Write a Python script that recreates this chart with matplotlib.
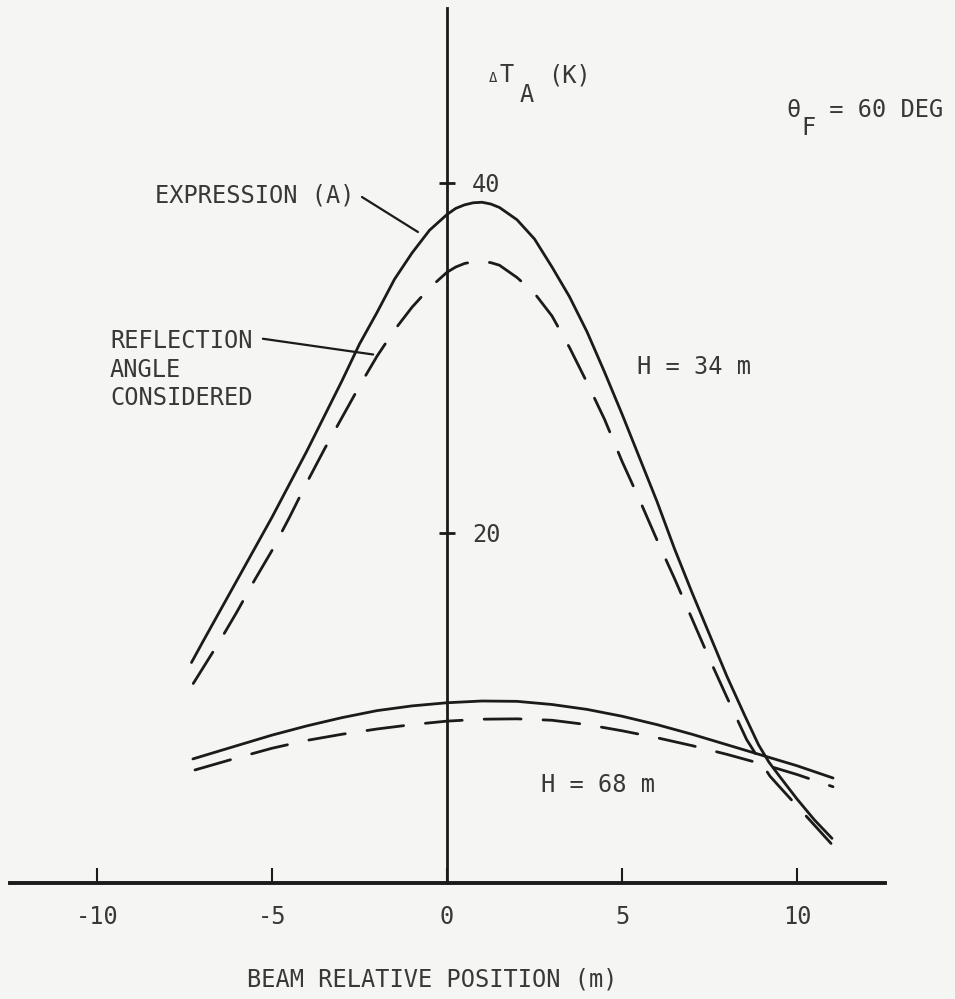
import matplotlib
matplotlib.use("Agg")
import matplotlib.pyplot as plt

# ---- data -------------------------------------------------------------
# H = 34 m, expression (A)
x34_a = [-7.3, -7.0, -6.5, -6.0, -5.5, -5.0, -4.5, -4.0, -3.5, -3.0, -2.5, -2.0,
         -1.5, -1.0, -0.5, 0.0, 0.25, 0.5, 0.75, 1.0, 1.25, 1.5, 2.0, 2.5, 3.0,
         3.5, 4.0, 4.5, 5.0, 5.5, 6.0, 6.5, 7.0, 7.5, 8.0, 8.5, 8.9, 9.2, 9.5,
         10.0, 10.5, 11.0]
y34_a = [12.6, 13.7, 15.5, 17.3, 19.1, 20.9, 22.8, 24.7, 26.7, 28.7, 30.8, 32.6,
         34.5, 36.0, 37.3, 38.2, 38.55, 38.75, 38.87, 38.9, 38.8, 38.6, 37.9, 36.8, 35.2,
         33.5, 31.5, 29.2, 26.8, 24.3, 21.8, 19.1, 16.6, 14.2, 11.8, 9.6, 7.9, 6.9, 6.1,
         4.8, 3.6, 2.55]

# H = 34 m, reflection angle considered
x34_r = [-7.25, -7.0, -6.5, -6.0, -5.5, -5.0, -4.5, -4.0, -3.5, -3.0, -2.5, -2.0,
         -1.5, -1.0, -0.5, 0.0, 0.25, 0.5, 0.75, 1.0, 1.25, 1.5, 2.0, 2.5, 3.0,
         3.5, 4.0, 4.5, 5.0, 5.5, 6.0, 6.5, 7.0, 7.5, 8.0, 8.56, 9.0, 9.23, 9.5,
         10.0, 10.5, 11.09]
y34_r = [11.4, 12.2, 13.8, 15.5, 17.3, 19.0, 20.9, 22.9, 24.8, 26.6, 28.4, 30.1,
         31.6, 32.9, 34.0, 34.9, 35.2, 35.4, 35.5, 35.5, 35.45, 35.3, 34.6, 33.7, 32.4,
         30.6, 28.6, 26.5, 24.1, 21.9, 19.6, 17.4, 15.1, 12.8, 10.6, 8.2, 6.8, 6.1, 5.5,
         4.4, 3.3, 2.0]

# H = 68 m, expression (A)
x68_a = [-7.26, -6.0, -5.0, -4.0, -3.0, -2.0, -1.0, 0.0, 1.0, 2.0, 3.0,
         4.0, 5.0, 6.0, 7.0, 8.0, 9.0, 10.0, 11.03]
y68_a = [7.09, 7.85, 8.45, 8.98, 9.45, 9.85, 10.12, 10.3, 10.4, 10.38, 10.2,
         9.92, 9.53, 9.05, 8.5, 7.9, 7.3, 6.7, 6.0]

# H = 68 m, reflection angle considered
x68_r = [-7.2, -6.0, -5.0, -4.0, -3.0, -2.0, -1.0, 0.0, 1.0, 2.0, 3.0,
         4.0, 5.0, 6.0, 7.0, 8.0, 9.0, 10.0, 11.03]
y68_r = [6.46, 7.15, 7.7, 8.15, 8.5, 8.8, 9.05, 9.25, 9.36, 9.38, 9.3,
         9.05, 8.7, 8.3, 7.85, 7.35, 6.8, 6.2, 5.5]

x_ticks = [-10, -5, 0, 5, 10]
x_tick_labels = ["-10", "-5", "0", "5", "10"]
y_ticks = [20, 40]
y_tick_labels = ["20", "40"]

# ---- style ------------------------------------------------------------
plt.rcParams["font.family"] = ["DejaVu Sans Mono", "DejaVu Sans"]

INK = "#1b1b1b"
TXT = "#383838"
BG = "#f5f5f3"
FS = 17
LW = 2.0
DASH = (0, (13.3, 7.9))

fig = plt.figure(figsize=(9.55, 9.99), dpi=100, facecolor=BG)
ax = fig.add_axes([0, 0, 1, 1])
ax.set_facecolor("none")
ax.set_xlim(-447 / 35, (955 - 447) / 35)
ax.set_ylim((883 - 999) / 17.5, 883 / 17.5)

# axes crossing at the origin
for side in ("top", "left"):
    ax.spines[side].set_visible(False)
ax.spines["bottom"].set_position(("data", 0))
ax.spines["bottom"].set_bounds(-12.5, 12.5)
ax.spines["bottom"].set_linewidth(2.8)
ax.spines["bottom"].set_color(INK)
ax.spines["right"].set_position(("data", 0))
ax.spines["right"].set_bounds(0, 50)
ax.spines["right"].set_linewidth(2.0)
ax.spines["right"].set_color(INK)

ax.set_xticks(x_ticks)
ax.set_xticklabels(x_tick_labels)
ax.tick_params(axis="x", direction="in", length=10.8, width=1.5, color=INK,
               pad=16, labelsize=FS, labelcolor=TXT)
ax.yaxis.set_ticks_position("right")
ax.set_yticks(y_ticks)
ax.set_yticklabels(y_tick_labels)
ax.tick_params(axis="y", direction="inout", length=12, width=2.0, color=INK,
               pad=12, labelsize=FS, labelcolor=TXT)

# curves
ax.plot(x34_a, y34_a, color=INK, lw=LW, solid_capstyle="round", solid_joinstyle="round")
ax.plot(x34_r, y34_r, color=INK, lw=LW, linestyle=DASH, dash_capstyle="round")
ax.plot(x68_a, y68_a, color=INK, lw=LW, solid_capstyle="round", solid_joinstyle="round")
ax.plot(x68_r, y68_r, color=INK, lw=LW, linestyle=DASH, dash_capstyle="round")

# axis titles
tk = dict(color=TXT, fontsize=FS, va="baseline", ha="left")
ax.text(1.18, 45.77, "Δ", color=TXT, fontsize=10, va="baseline", ha="left")
ax.text(1.50, 45.77, "T", **tk)
ax.text(2.06, 44.63, "A", **tk)
ax.text(2.89, 45.77, "(K)", **tk)

ax.text(9.71, 43.77, "θ", **tk)
ax.text(10.12, 42.74, "F", **tk)
ax.text(10.52, 43.77, " = 60 DEG", **tk)

ax.text(-0.43, -5.94, "BEAM RELATIVE POSITION (m)", color=TXT, fontsize=FS,
        va="baseline", ha="center")

# curve annotations
ax.text(-8.34, 38.9, "EXPRESSION (A)", **tk)
ax.annotate("", xy=(-0.83, 37.2), xytext=(-2.43, 39.2),
            arrowprops=dict(arrowstyle="-", color=INK, lw=1.6, shrinkA=0, shrinkB=0))
ax.text(-9.63, 30.6, "REFLECTION", **tk)
ax.text(-9.63, 28.9, "ANGLE", **tk)
ax.text(-9.63, 27.3, "CONSIDERED", **tk)
ax.annotate("", xy=(-2.11, 30.2), xytext=(-5.26, 31.1),
            arrowprops=dict(arrowstyle="-", color=INK, lw=1.6, shrinkA=0, shrinkB=0))

ax.text(5.43, 29.1, "H = 34 m", **tk)
ax.text(2.69, 5.2, "H = 68 m", **tk)

fig.savefig("out.png", dpi=100, facecolor=BG)
